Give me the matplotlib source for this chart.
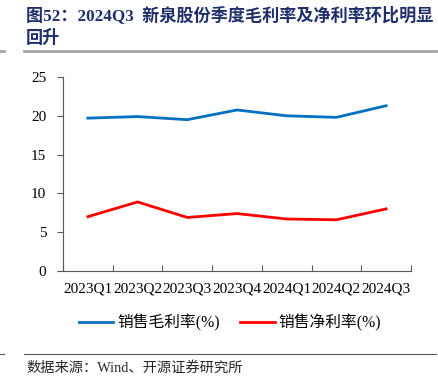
import matplotlib.pyplot as plt
from matplotlib.lines import Line2D

plt.rcParams['font.family'] = ['Liberation Serif', 'Noto Sans CJK SC', 'DejaVu Sans']

# 季度
quarters = ['2023Q1', '2023Q2', '2023Q3', '2023Q4', '2024Q1', '2024Q2', '2024Q3']
# 销售毛利率(%)
gross_margin = [19.7, 19.9, 19.5, 20.75, 20.0, 19.8, 21.3]
# 销售净利率(%)
net_margin = [7.0, 8.9, 6.9, 7.4, 6.7, 6.6, 8.0]

blue = '#0070C0'
red = '#FF0000'

fig = plt.figure(figsize=(4.39, 3.91), dpi=100)
W, H = 439, 391
ax = fig.add_axes([63 / W, 1 - 271 / H, 348 / W, 194 / H])

x = list(range(len(quarters)))
ax.plot(x, gross_margin, color=blue, lw=2.0, solid_joinstyle='round')
ax.plot(x, net_margin, color=red, lw=2.0, solid_joinstyle='round')

ax.set_xlim(-0.5, len(quarters) - 0.5)
ax.set_ylim(0, 25)
ax.set_yticks([0, 5, 10, 15, 20, 25])
ax.set_xticks([i - 0.5 for i in range(len(quarters) + 1)])
ax.set_xticklabels([])
ax.set_xticks(x, minor=True)
ax.set_xticklabels(quarters, minor=True, fontsize=11)
ax.tick_params(axis='x', which='minor', length=0, pad=8)
ax.tick_params(axis='x', which='major', direction='in', length=4, color='#595959')
ax.tick_params(axis='y', length=4, color='#595959', labelsize=11, pad=8)
for side in ['top', 'right']:
    ax.spines[side].set_visible(False)
for side in ['left', 'bottom']:
    ax.spines[side].set_color('#595959')

handles = [Line2D([], [], color=blue, lw=2.0), Line2D([], [], color=red, lw=2.0)]
fig.legend(handles, ['销售毛利率(%)', '销售净利率(%)'], loc='center',
           bbox_to_anchor=(230 / W, 1 - 323 / H), ncol=2, frameon=False,
           fontsize=11.3, handlelength=2.2, columnspacing=1.3, handletextpad=0.25)

title_color = '#1F2F6B'
fig.text(26 / W, 1 - 15 / H, '图52：2024Q3  新泉股份季度毛利率及净利率环比明显',
         fontsize=12.3, fontweight='bold', color=title_color, va='center',
         family=['Liberation Serif', 'Noto Sans CJK SC'])
fig.text(26 / W, 1 - 38 / H, '回升', fontsize=12.3, fontweight='bold',
         color=title_color, va='center', family=['Noto Sans CJK SC'])

fig.add_artist(Line2D([24 / W, 436 / W], [1 - 51 / H, 1 - 51 / H], color='#A6A6A6', lw=2.0))
fig.add_artist(Line2D([0, 4 / W], [1 - 51 / H, 1 - 51 / H], color='#A6A6A6', lw=2.0))
fig.add_artist(Line2D([24 / W, 436 / W], [1 - 354 / H, 1 - 354 / H], color='#595959', lw=0.8))
fig.add_artist(Line2D([0, 4 / W], [1 - 354 / H, 1 - 354 / H], color='#595959', lw=0.8))

fig.text(26 / W, 1 - 368 / H, '数据来源：Wind、开源证券研究所', fontsize=10.3,
         color='#262626', va='center')

fig.savefig('out.png', dpi=100)
